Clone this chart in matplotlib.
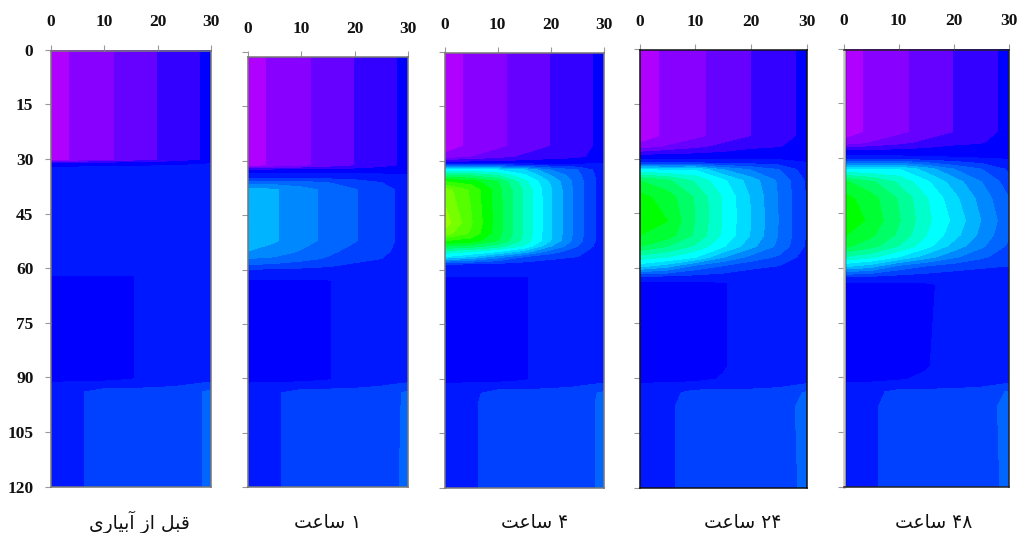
import numpy as np
import matplotlib
matplotlib.use('Agg')
import matplotlib.pyplot as plt
from matplotlib.colors import ListedColormap, BoundaryNorm

W, H = 1019, 533
x_cols = [0, 5, 10, 15, 20, 25, 30]
x_ticks = [0, 10, 20, 30]
depth_ticks = [0, 15, 30, 45, 60, 75, 90, 105, 120]
labels = ['قبل از آبیاری', '۱ ساعت', '۴ ساعت', '۲۴ ساعت', '۴۸ ساعت']
label_centers = [139, 328, 535, 743, 934]

band_colors = ['#b000ff', '#8800ff', '#6600ff', '#3300ff', '#0000ff', '#0018ff', '#0040ff',
               '#0066ff', '#0088ff', '#00b4ff', '#00dcff', '#00ffff', '#00ffcc', '#00ff99',
               '#00ff66', '#00ff33', '#00ff00', '#33ff00', '#55ff00', '#77ff00', '#99ff00']

depth_before = [0.3, 30.3, 31.3, 32.5, 61.5, 62, 90.3, 91, 92, 94, 120]
field_before = [
    [.5, 1.2, 1.75, 2.4, 3, 3.6, 4.25],
    [.5, 1.2, 1.75, 2.4, 3, 3.6, 4.25],
    [4.4, 4.4, 4.5, 4.5, 4.6, 4.8, 5.0],
    [5.1, 5.2, 5.3, 5.4, 5.4, 5.4, 5.4],
    [5.4, 5.4, 5.4, 5.4, 5.4, 5.4, 5.4],
    [4.85, 4.85, 4.85, 4.95, 5.3, 5.4, 5.4],
    [4.85, 4.85, 4.85, 4.95, 5.3, 5.4, 5.5],
    [4.9, 4.95, 5.0, 5.1, 5.4, 5.6, 5.9],
    [5.2, 5.3, 5.5, 5.6, 5.75, 5.95, 6.3],
    [5.3, 5.85, 6.4, 6.4, 6.4, 6.4, 7.3],
    [5.3, 5.85, 6.4, 6.4, 6.4, 6.4, 7.3],
]

depth_1h = [1.4, 31.4, 32.8, 34.5, 36, 38, 52, 55, 57, 59, 60.5, 62, 63, 90.3, 91, 92, 94, 120]
field_1h = [
    [.5, 1.2, 1.75, 2.4, 3, 3.6, 4.25],
    [.5, 1.2, 1.75, 2.4, 3, 3.6, 4.25],
    [4.6, 4.6, 4.6, 4.6, 4.6, 4.7, 4.7],
    [5.5, 5.5, 5.5, 5.5, 5.5, 5.3, 5.2],
    [7.5, 7.5, 7.3, 7.0, 6.5, 6.0, 5.3],
    [9.5, 9.1, 8.43, 7.73, 7.07, 6.36, 5.65],
    [9.5, 9.1, 8.43, 7.73, 7.07, 6.36, 5.65],
    [9.0, 8.6, 7.9, 7.2, 6.7, 6.2, 5.6],
    [8.0, 7.8, 7.3, 6.9, 6.4, 6.0, 5.4],
    [6.8, 6.6, 6.4, 6.1, 5.7, 5.4, 5.2],
    [5.5, 5.5, 5.4, 5.4, 5.4, 5.4, 5.3],
    [5.4, 5.4, 5.4, 5.4, 5.4, 5.4, 5.4],
    [4.85, 4.85, 4.85, 4.95, 5.3, 5.4, 5.4],
    [4.85, 4.85, 4.85, 4.95, 5.3, 5.4, 5.5],
    [4.9, 4.95, 5.0, 5.1, 5.4, 5.6, 5.9],
    [5.2, 5.3, 5.5, 5.6, 5.75, 5.95, 6.3],
    [5.3, 5.85, 6.4, 6.4, 6.4, 6.4, 7.2],
    [5.3, 5.85, 6.4, 6.4, 6.4, 6.4, 7.3],
]

depth_4h = [0.3, 26, 29, 30.7, 32.5, 34, 35.7, 38, 47, 50, 52, 53.5, 55, 56.4, 58.7, 61, 62,
            90.3, 91, 92, 94, 97, 120]
field_4h = [
    [.5, 1.2, 1.75, 2.4, 3, 3.6, 4.25],
    [.5, 1.2, 1.75, 2.4, 3, 3.6, 4.25],
    [1.3, 2.0, 2.6, 3.2, 3.6, 3.8, 4.4],
    [4.6, 4.6, 4.6, 4.6, 4.6, 4.7, 5.0],
    [11.5, 11.3, 11.0, 10.0, 8.0, 7.0, 5.2],
    [14.0, 13.8, 13.0, 11.2, 9.0, 7.3, 5.3],
    [17.0, 16.5, 15.0, 12.3, 9.8, 7.5, 5.3],
    [19.5, 17.8, 15.4, 12.8, 10.1, 7.5, 5.3],
    [20.6, 18.1, 15.5, 12.85, 10.1, 7.5, 5.3],
    [19.5, 17.8, 15.4, 12.8, 10.1, 7.5, 5.3],
    [17.0, 16.5, 15.0, 12.7, 10.0, 7.4, 5.3],
    [15.0, 14.5, 13.5, 11.8, 9.0, 7.0, 5.3],
    [12.5, 12.0, 11.0, 9.5, 7.5, 6.3, 5.3],
    [11.0, 10.0, 8.5, 7.0, 6.3, 6.0, 5.2],
    [5.4, 5.4, 5.4, 5.4, 5.4, 5.4, 5.4],
    [5.4, 5.4, 5.4, 5.4, 5.4, 5.4, 5.4],
    [4.85, 4.85, 4.85, 4.95, 5.3, 5.4, 5.4],
    [4.85, 4.85, 4.85, 4.95, 5.3, 5.4, 5.5],
    [4.9, 4.95, 5.0, 5.1, 5.4, 5.6, 5.9],
    [5.2, 5.3, 5.5, 5.6, 5.75, 5.95, 6.3],
    [5.3, 5.75, 6.4, 6.4, 6.4, 6.4, 7.2],
    [5.3, 5.85, 6.4, 6.4, 6.4, 6.4, 7.3],
    [5.3, 5.85, 6.4, 6.4, 6.4, 6.4, 7.3],
]

depth_24h = [0.3, 24, 26.8, 29.6, 31, 33, 36, 40.6, 47, 51, 54, 57, 59.3, 62.5, 64, 87, 90.3,
             91.3, 92.5, 94, 98, 120]
field_24h = [
    [.5, 1.2, 1.75, 2.4, 3, 3.6, 4.25],
    [.5, 1.2, 1.75, 2.4, 3, 3.6, 4.25],
    [1.3, 2.1, 2.7, 3.3, 3.8, 3.95, 4.3],
    [4.6, 4.6, 4.6, 4.6, 4.6, 4.6, 4.7],
    [5.6, 5.6, 5.6, 5.5, 5.5, 5.4, 5.0],
    [11.0, 10.8, 10.9, 9.0, 7.9, 7.0, 5.4],
    [15.0, 14.2, 12.8, 11.2, 9.5, 7.8, 5.8],
    [16.4, 15.5, 13.9, 11.9, 9.9, 7.9, 5.9],
    [16.9, 16.0, 13.96, 11.9, 9.96, 7.93, 5.9],
    [16.0, 15.5, 13.8, 11.8, 9.9, 7.9, 5.9],
    [15.0, 14.0, 12.8, 11.1, 9.3, 7.7, 5.8],
    [12.5, 12.0, 11.0, 9.0, 7.6, 6.8, 5.5],
    [10.5, 9.5, 7.8, 7.0, 6.3, 6.0, 5.4],
    [5.6, 5.5, 5.5, 5.4, 5.3, 5.3, 5.3],
    [4.8, 4.8, 4.8, 4.95, 5.3, 5.3, 5.3],
    [4.8, 4.8, 4.8, 4.95, 5.3, 5.4, 5.4],
    [4.8, 4.8, 4.85, 5.05, 5.4, 5.4, 5.5],
    [4.95, 5.0, 5.05, 5.25, 5.5, 5.6, 5.9],
    [5.25, 5.35, 5.5, 5.6, 5.75, 5.95, 6.3],
    [5.3, 5.6, 6.4, 6.4, 6.4, 6.4, 7.11],
    [5.3, 5.85, 6.4, 6.4, 6.4, 6.4, 7.43],
    [5.3, 5.85, 6.4, 6.4, 6.4, 6.4, 7.3],
]

depth_48h = [0.4, 23, 26, 28.4, 30, 33, 36.5, 41, 47, 51, 54, 57, 59.5, 62.5, 64.5, 87, 90.5,
             91.3, 92.5, 94, 98, 120]
field_48h = [
    [.5, 1.2, 1.75, 2.4, 3, 3.6, 4.25],
    [.5, 1.2, 1.75, 2.4, 3, 3.6, 4.25],
    [1.3, 2.1, 2.7, 3.3, 3.8, 3.95, 4.3],
    [4.5, 4.5, 4.5, 4.5, 4.5, 4.5, 4.6],
    [5.3, 5.3, 5.3, 5.2, 5.1, 5.0, 4.9],
    [11.0, 10.8, 11.0, 9.5, 8.0, 7.0, 5.8],
    [15.2, 14.2, 12.8, 11.2, 9.5, 8.0, 6.5],
    [16.4, 15.4, 13.9, 12.1, 10.3, 8.6, 7.0],
    [17.0, 15.7, 14.1, 12.3, 10.75, 8.95, 7.3],
    [16.1, 15.2, 13.8, 12.0, 10.4, 8.7, 7.1],
    [15.3, 14.4, 13.0, 11.4, 9.6, 8.2, 6.8],
    [13.0, 12.3, 11.0, 9.5, 8.2, 7.2, 6.4],
    [10.3, 9.5, 7.8, 7.0, 6.5, 6.2, 6.0],
    [6.0, 5.8, 5.6, 5.5, 5.4, 5.3, 5.2],
    [4.8, 4.8, 4.8, 4.9, 5.2, 5.3, 5.3],
    [4.8, 4.8, 4.8, 4.95, 5.3, 5.4, 5.4],
    [4.8, 4.85, 4.95, 5.1, 5.4, 5.4, 5.5],
    [4.95, 5.0, 5.1, 5.25, 5.5, 5.6, 5.9],
    [5.25, 5.35, 5.5, 5.6, 5.75, 5.95, 6.3],
    [5.3, 5.6, 6.4, 6.4, 6.4, 6.4, 7.11],
    [5.3, 5.85, 6.4, 6.4, 6.4, 6.4, 7.43],
    [5.3, 5.85, 6.4, 6.4, 6.4, 6.4, 7.3],
]

depths = [depth_before, depth_1h, depth_4h, depth_24h, depth_48h]
fields = [field_before, field_1h, field_4h, field_24h, field_48h]

# axes boxes in pixels: x of 0, x of 30, y of depth 0, y of depth 120
boxes = [(50.5, 211, 49.8, 486.7), (247.5, 408, 52, 487), (444.5, 604, 52, 487.5),
         (639.5, 807, 49, 487.5), (843.5, 1009, 48.5, 487)]
frame_colors = ['#777777', '#777777', '#777777', '#111111', '#222222']

FORMS = {
    'ق': (0xFED5, 0xFED6, 0xFED7, 0xFED8), 'ب': (0xFE8F, 0xFE90, 0xFE91, 0xFE92),
    'ل': (0xFEDD, 0xFEDE, 0xFEDF, 0xFEE0), 'ی': (0xFBFC, 0xFBFD, 0xFBFE, 0xFBFF),
    'س': (0xFEB1, 0xFEB2, 0xFEB3, 0xFEB4), 'ع': (0xFEC9, 0xFECA, 0xFECB, 0xFECC),
    'ت': (0xFE95, 0xFE96, 0xFE97, 0xFE98), 'ا': (0xFE8D, 0xFE8E, None, None),
    'آ': (0xFE81, 0xFE82, None, None), 'ز': (0xFEAF, 0xFEB0, None, None),
    'ر': (0xFEAD, 0xFEAE, None, None),
}


def visual(text):
    """Shape logical Persian text into right-to-left visual presentation forms."""
    words = []
    for word in text.split(' '):
        if word[0] not in FORMS:
            words.append(word)
            continue
        out = []
        for i, c in enumerate(word):
            p = word[i - 1] if i else ' '
            n = word[i + 1] if i + 1 < len(word) else ' '
            joins_prev = p in FORMS and FORMS[p][2] is not None
            joins_next = n in FORMS and FORMS[c][2] is not None
            out.append(chr(FORMS[c][int(joins_prev) + 2 * int(joins_next)]))
        words.append(''.join(out[::-1]))
    return ' '.join(words[::-1])


cmap = ListedColormap(band_colors)
levels = np.arange(0, len(band_colors) + 1)
norm = BoundaryNorm(levels, cmap.N)

fig = plt.figure(figsize=(W / 100, H / 100), dpi=100, facecolor='white')
serif = 'Liberation Serif'

for i, (box, d, f, col) in enumerate(zip(boxes, depths, fields, frame_colors)):
    l, r, t, b = box
    ax = fig.add_axes([l / W, 1 - b / H, (r - l) / W, (b - t) / H])
    ax.contourf(x_cols, d, np.array(f), levels=levels, cmap=cmap, norm=norm, antialiased=False)
    ax.set_xlim(0, 30)
    ax.set_ylim(120, 0)
    for s in ax.spines.values():
        s.set_color(col)
        s.set_linewidth(1.1)
    ax.spines['top'].set_position(('data', d[0]))
    ax.spines['left'].set_bounds(d[0], 120)
    ax.spines['right'].set_bounds(d[0], 120)
    ax.xaxis.tick_top()
    ax.set_xticks(x_ticks)
    ax.set_yticks(depth_ticks)
    ax.tick_params(axis='both', length=4.3, width=0.8, color='#999999')
    ax.tick_params(axis='x', pad=10.5)
    ax.tick_params(axis='y', pad=8)
    for tick in ax.xaxis.get_major_ticks():
        tick.label2.set(fontfamily=serif, fontweight='bold', fontsize=12.5, color='#111111')
    if i == 0:
        for tick in ax.yaxis.get_major_ticks():
            tick.label1.set(fontfamily=serif, fontweight='bold', fontsize=12.5, color='#111111')
    else:
        ax.set_yticklabels([])
    if i == 4:
        ax.spines['left'].set_color('#c4c4c4')
        ax.spines['left'].set_linewidth(1.8)
        ax.axvline(0.2, color='#111111', lw=1.0)
    fig.text(label_centers[i] / W, 1 - 522 / H, visual(labels[i]), ha='center', va='center',
             fontsize=13.5, family='DejaVu Sans', color='#111111')

fig.savefig('out.png', dpi=100)
